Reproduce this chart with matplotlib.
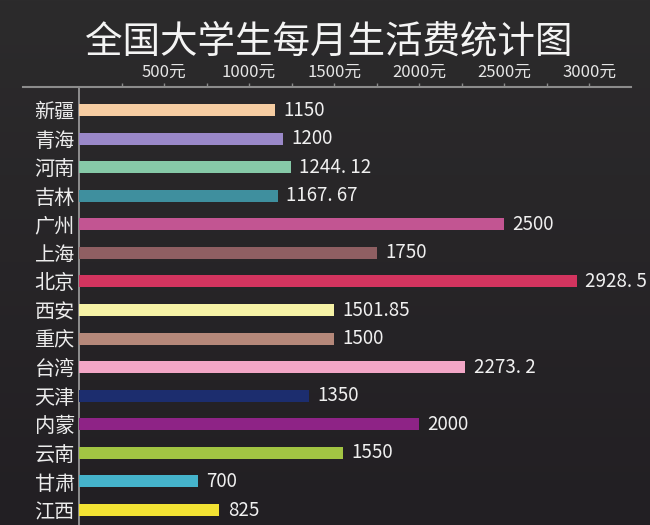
import numpy as np
import matplotlib
matplotlib.use('Agg')
import matplotlib.pyplot as plt
from matplotlib.lines import Line2D

plt.rcParams['font.family'] = ['Noto Sans CJK SC', 'DejaVu Sans']

# data
regions = ['新疆', '青海', '河南', '吉林', '广州', '上海', '北京', '西安',
           '重庆', '台湾', '天津', '内蒙', '云南', '甘肃', '江西']
spend = [1150, 1200, 1244.12, 1167.67, 2500, 1750, 2928.5, 1501.85,
         1500, 2273.2, 1350, 2000, 1550, 700, 825]
spend_text = ['1150', '1200', '1244. 12', '1167. 67', '2500', '1750', '2928. 5',
              '1501.85', '1500', '2273. 2', '1350', '2000', '1550', '700', '825']
bar_colors = ['#f6cda2', '#9a88c8', '#86c9a8', '#3f8f9e', '#c25592', '#8f5f62',
              '#d3345f', '#f6f2a6', '#b5887a', '#f2a6c6', '#1c2d6e', '#8e2386',
              '#a2c443', '#45b3cb', '#f2e233']
ticks = [500, 1000, 1500, 2000, 2500, 3000]
tick_labels = ['500元', '1000元', '1500元', '2000元', '2500元', '3000元']

W, H = 650, 525
fig = plt.figure(figsize=(6.5, 5.25), dpi=100)
fig.patch.set_facecolor('#262427')

# soft dark gradient behind everything
bg = fig.add_axes([0, 0, 1, 1], zorder=-5)
grad = np.linspace(0, 1, 256).reshape(-1, 1)
bg.imshow(grad, aspect='auto', cmap=matplotlib.colors.LinearSegmentedColormap.from_list(
    'bg', ['#2c2b2c', '#221f23']), extent=[0, 1, 0, 1])
bg.axis('off')

left, right, top = 79, 631, 87
ax = fig.add_axes([left / W, 0, (right - left) / W, 1 - top / H])
ax.set_facecolor('none')

y = np.arange(len(regions))
ax.barh(y, spend, height=0.42, color=bar_colors, zorder=3)
for yi, v, t in zip(y, spend, spend_text):
    ax.text(v + 50, yi, t, color='#f0f0f0', fontsize=13.5, va='center', ha='left')

ax.set_xlim(0, 3247)
ax.set_ylim(14.525, -0.805)

ax.xaxis.tick_top()
ax.set_xticks(ticks)
ax.set_xticklabels(tick_labels, fontsize=12, color='#e6e6e6')
ax.set_xticks([250, 750, 1250, 1750, 2250, 2750], minor=True)
ax.tick_params(axis='x', which='both', colors='#8a8a8a', length=3, width=1, pad=1.5,
               labelcolor='#e6e6e6')
ax.set_yticks(y)
ax.set_yticklabels(regions, fontsize=14.5, color='#ececec')
ax.tick_params(axis='y', length=0, pad=3)

for s in ['right', 'bottom', 'top']:
    ax.spines[s].set_visible(False)
ax.spines['left'].set_color('#a0a0a0')
ax.spines['left'].set_linewidth(1.2)

# horizontal rule under the tick labels, running past both axes edges
fig.add_artist(Line2D([23 / W, right / W], [1 - top / H, 1 - top / H],
                      color='#8c8c8c', lw=1.5))

fig.text(329 / W, 1 - 42 / H, '全国大学生每月生活费统计图', ha='center', va='center',
         fontsize=27, color='#f4f4f4')

fig.savefig('out.png', dpi=100, facecolor=fig.get_facecolor())
